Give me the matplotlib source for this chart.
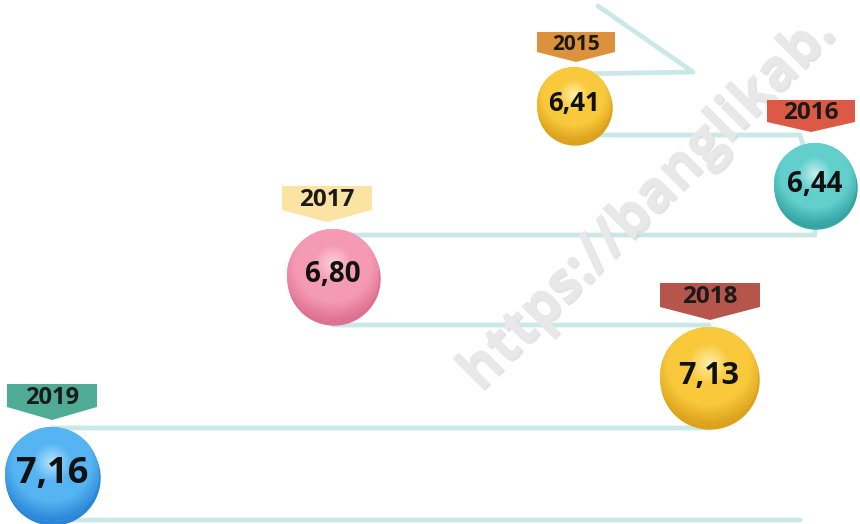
import numpy as np
import matplotlib
matplotlib.use("Agg")
import matplotlib.pyplot as plt
import matplotlib.patches as patches
import matplotlib.patheffects as pe
from matplotlib.colors import LinearSegmentedColormap

# data
years = ["2015", "2016", "2017", "2018", "2019"]
values = [6.41, 6.44, 6.80, 7.13, 7.16]

# layout (pixel space, y grows downwards)
centers = [(574, 104), (815, 184), (333, 275), (709, 376), (52, 474)]
radii = [37, 41, 46, 49, 47]
value_sizes = [18.5, 20, 20, 22, 26]
year_sizes = [15, 17.5, 17.5, 17.5, 17]
banner_x = [576, 811, 327, 710, 52]
banner_top = [32, 100, 186, 283, 384]
banner_w = [78, 88, 90, 100, 90]
banner_h = [20, 22, 24, 24, 23]
banner_tip = [10, 10, 12, 13, 13]

# styles
disc_colors = [
    ("#fff0a8", "#f9c93c", "#dca21c"),
    ("#c4f0ee", "#62cfcc", "#35a5a3"),
    ("#fcd0dc", "#f59ab4", "#de7192"),
    ("#fff0a8", "#f9c93c", "#dca21c"),
    ("#b6e2ff", "#55b4f2", "#2a86d6"),
]
banner_colors = ["#dc923c", "#dc5a45", "#fbe3a3", "#b5554b", "#4fab96"]
line_color = "#cbe8e8"
font = ["Open Sans", "DejaVu Sans"]

# connector route between the discs
route_x = [598, 693, 574, 574, 800, 815, 815, 333, 333, 709, 709, 52, 52, 800]
route_y = [6, 72, 74, 135, 135, 184, 235, 235, 325, 325, 428, 428, 520, 520]

fig = plt.figure(figsize=(8.6, 5.24), dpi=100)
ax = fig.add_axes([0, 0, 1, 1])
ax.set_xlim(0, 860)
ax.set_ylim(524, 0)
ax.axis("off")

ax.plot(route_x, route_y, color=line_color, lw=3.4, solid_joinstyle="round",
        solid_capstyle="round", zorder=1)

# watermark
ax.text(480, 392, "https://banglikab.", rotation=45, rotation_mode="anchor",
        ha="left", va="baseline", fontsize=40.5, fontweight="bold",
        family=font, color="#e8e8e8", zorder=2,
        path_effects=[pe.withSimplePatchShadow(offset=(1.5, -1.5), shadow_rgbFace="#c8c8c8", alpha=0.5),
                      pe.Normal()])


def shaded_disc(cx, cy, r, light, base, dark):
    shadow = patches.Ellipse((cx + 1, cy + 4), 2 * r, 2 * r, color=dark, zorder=3)
    ax.add_patch(shadow)
    disc = patches.Circle((cx, cy), r, facecolor=base, edgecolor="none", zorder=4)
    ax.add_patch(disc)
    n = 200
    yy, xx = np.mgrid[-1:1:n * 1j, -1:1:n * 1j]
    d = np.hypot(xx, yy + 0.25) / 1.25
    cmap = LinearSegmentedColormap.from_list("g", [light, base, base, dark])
    im = ax.imshow(np.clip(d, 0, 1), cmap=cmap, vmin=0, vmax=1,
                   extent=(cx - r, cx + r, cy + r, cy - r), origin="upper",
                   interpolation="bilinear", zorder=5)
    im.set_clip_path(disc)


def banner(cx, top, w, h, tip, color):
    pts = [(cx - w / 2, top), (cx + w / 2, top), (cx + w / 2, top + h),
           (cx, top + h + tip), (cx - w / 2, top + h)]
    ax.add_patch(patches.Polygon(pts, closed=True, facecolor=color,
                                 edgecolor="none", zorder=6))


for i, (yr, val) in enumerate(zip(years, values)):
    cx, cy = centers[i]
    r = radii[i]
    shaded_disc(cx, cy, r, *disc_colors[i])
    ax.text(cx, cy, f"{val:.2f}".replace(".", ","), ha="center", va="center",
            fontsize=value_sizes[i], fontweight="bold", family=font,
            color="#111111", zorder=7)
    bx, top = banner_x[i], banner_top[i]
    banner(bx, top, banner_w[i], banner_h[i], banner_tip[i], banner_colors[i])
    ax.text(bx, top + banner_h[i] / 2 + 2, yr, ha="center", va="center",
            fontsize=year_sizes[i], fontweight="bold", family=font,
            color="#1a1a1a", zorder=7)

fig.savefig("out.png", dpi=100)
